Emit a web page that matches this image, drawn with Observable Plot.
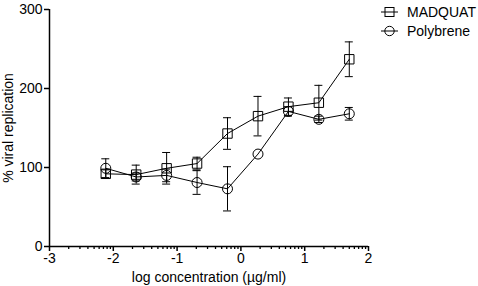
<!DOCTYPE html>
<html>
<head>
<meta charset="utf-8">
<script src="https://cdn.jsdelivr.net/npm/d3@7"></script>
<script src="https://cdn.jsdelivr.net/npm/@observablehq/plot@0.6"></script>
<style>
  body { margin: 0; background: #fff; font-family: "Liberation Sans", Arial, sans-serif; }
  #wrap { position: relative; width: 478px; height: 286px; }
  #legend { position: absolute; left: 381px; top: 2px; font-size: 14px; color: #000; }
  #legend .item { display: flex; align-items: center; height: 19px; }
  #legend svg { margin-right: 9px; }
</style>
</head>
<body>
<div id="wrap"><div id="legend"></div></div>
<script>
const logConc = [-2.118, -1.641, -1.164, -0.687, -0.210, 0.268, 0.745, 1.222, 1.699];
const madquat = [92, 91, 99, 105, 143, 165, 177, 182, 237];
const madquatErr = [5, 12, 20, 8, 20, 25, 11, 22, 22];
const polybrene = [99, 88, 90, 81, 73, 117, 171, 161, 168];
const polybreneErr = [12, 5, 8, 15, 28, 0, 6, 4, 8];
const seriesNames = ["MADQUAT", "Polybrene"];
const seriesSymbols = ["square", "circle"];
const xTicks = [-3, -2, -1, 0, 1, 2];
const yTicks = [0, 100, 200, 300];

const rows = [];
[[madquat, madquatErr], [polybrene, polybreneErr]].forEach(([vals, errs], s) => {
  vals.forEach((v, i) => rows.push({series: seriesNames[s], sym: seriesSymbols[s], x: logConc[i], y: v, lo: v - errs[i], hi: v + errs[i], err: errs[i]}));
});
const errRows = rows.filter(d => d.err > 0);

// minor log ticks within each decade
const minorTicks = [];
for (let d = -3; d < 2; d++) for (let k = 2; k <= 9; k++) minorTicks.push(d + Math.log10(k));

const chart = Plot.plot({
  width: 478,
  height: 286,
  marginLeft: 49,
  marginRight: 110,
  marginTop: 9,
  marginBottom: 40,
  style: {fontFamily: "'Liberation Sans', Arial, sans-serif", fontSize: "14px", color: "#000", background: "#fff"},
  x: {domain: [-3, 2]},
  y: {domain: [0, 300]},
  marks: [
    Plot.axisX(minorTicks, {tickSize: 3, tickFormat: () => "", strokeWidth: 1.3, label: null}),
    Plot.axisX(xTicks, {tickSize: 5, tickPadding: 2, fontSize: 14, strokeWidth: 1.5, tickFormat: d => String(d),
      label: "log concentration (µg/ml)", labelAnchor: "center", labelArrow: "none", labelOffset: 35}),
    Plot.axisY(yTicks, {tickSize: 5, tickPadding: 2, fontSize: 14, strokeWidth: 1.5, tickFormat: d => String(d),
      label: "% viral replication", labelAnchor: "center", labelArrow: "none", labelOffset: 46}),
    Plot.ruleY([0], {stroke: "#000", strokeWidth: 1.5}),
    Plot.ruleX([-3], {stroke: "#000", strokeWidth: 1.5}),
    Plot.ruleX(errRows, {x: "x", y1: "lo", y2: "hi", stroke: "#000", strokeWidth: 1}),
    Plot.ruleY(errRows, {y: "hi", x1: "x", x2: "x", insetLeft: -4, insetRight: -4, stroke: "#000", strokeWidth: 1}),
    Plot.ruleY(errRows, {y: "lo", x1: "x", x2: "x", insetLeft: -4, insetRight: -4, stroke: "#000", strokeWidth: 1}),
    Plot.line(rows, {x: "x", y: "y", z: "series", stroke: "#000", strokeWidth: 1}),
    Plot.dot(rows.filter(d => d.sym === "square"), {x: "x", y: "y", symbol: "square", r: 5.3, stroke: "#000", fill: "none", strokeWidth: 1}),
    Plot.dot(rows.filter(d => d.sym === "circle"), {x: "x", y: "y", symbol: "circle", r: 5, stroke: "#000", fill: "none", strokeWidth: 1})
  ]
});
document.getElementById("wrap").prepend(chart);

const legend = document.getElementById("legend");
seriesNames.forEach((name, i) => {
  const item = document.createElement("div");
  item.className = "item";
  const sym = seriesSymbols[i] === "square"
    ? '<rect x="4" y="1.5" width="9" height="9" fill="none" stroke="#000"/>'
    : '<circle cx="8.5" cy="6" r="4.7" fill="none" stroke="#000"/>';
  item.innerHTML = `<svg width="17" height="12"><line x1="0" x2="17" y1="6" y2="6" stroke="#000"/>${sym}</svg><span>${name}</span>`;
  legend.appendChild(item);
});
</script>
</body>
</html>
